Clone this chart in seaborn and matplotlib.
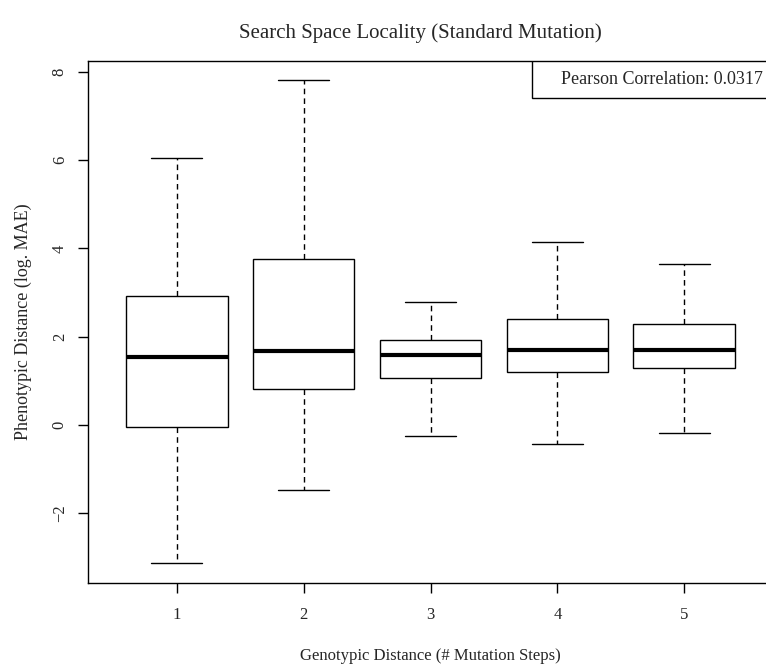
import matplotlib
matplotlib.use("Agg")
import matplotlib.pyplot as plt
from matplotlib.patches import Rectangle
import seaborn as sns
import pandas as pd

# Data (whisker low, Q1, median, Q3, whisker high)
steps = ["1", "2", "3", "4", "5"]
whisker_low = [-3.13, -1.47, -0.25, -0.43, -0.17]
q1 = [-0.04, 0.81, 1.06, 1.20, 1.30]
median = [1.55, 1.68, 1.59, 1.71, 1.70]
q3 = [2.92, 3.75, 1.92, 2.41, 2.29]
whisker_high = [6.05, 7.81, 2.79, 4.14, 3.65]
y_ticks = [-2, 0, 2, 4, 6, 8]
legend_text = "Pearson Correlation: 0.0317"

rows = []
for i, s in enumerate(steps):
    for v in (whisker_low[i], q1[i], median[i], q3[i], whisker_high[i]):
        rows.append({"step": s, "value": v})
df = pd.DataFrame(rows)

sns.set_theme(style="white")
plt.rcParams["font.family"] = ["Liberation Serif", "DejaVu Serif"]

W, H = 766, 664
fig = plt.figure(figsize=(W / 100, H / 100), dpi=100)
left, right, top, bottom = 88, 773, 60.8, 582.6
ax = fig.add_axes([left / W, 1 - bottom / H, (right - left) / W, (bottom - top) / H])

sns.boxplot(
    data=df, x="step", y="value", order=steps, ax=ax,
    color="white", linecolor="black", linewidth=1.0, width=0.8,
    whis=(0, 100), showfliers=False,
    medianprops=dict(color="black", linewidth=3.0),
    whiskerprops=dict(color="black", linewidth=1.0, linestyle=(0, (4, 3))),
    capprops=dict(color="black", linewidth=1.0),
    boxprops=dict(edgecolor="black", linewidth=1.0),
    capwidths=0.4,
)

ax.set_xlim(-0.7, 4.7)
rng = max(whisker_high) - min(whisker_low)
ax.set_ylim(min(whisker_low) - 0.04 * rng, max(whisker_high) + 0.04 * rng)
ax.set_yticks(y_ticks)
ax.set_yticklabels([str(t).replace("-", "\u2212") for t in y_ticks], rotation=90, va="center")

for sp in ax.spines.values():
    sp.set_visible(True)
    sp.set_color("black")
    sp.set_linewidth(1.0)

ax.tick_params(axis="both", direction="out", length=7.5, width=1, color="black",
               labelsize=12, left=True, bottom=True)
ax.tick_params(axis="y", pad=7)
ax.tick_params(axis="x", pad=10)
ax.set_xlabel("Genotypic Distance (# Mutation Steps)", fontsize=12, labelpad=18)
ax.set_ylabel("Phenotypic Distance (log. MAE)", fontsize=13, labelpad=14)

fig.text(420 / W, 1 - 33 / H,
         "Search Space Locality (Standard Mutation)", fontsize=15,
         ha="center", va="center")

# legend box
lx0 = (531.7 - left) / (right - left)
ly0 = (bottom - 98.3) / (bottom - top)
ax.add_patch(Rectangle((lx0, ly0), 1 - lx0, 1 - ly0, transform=ax.transAxes,
                       facecolor="white", edgecolor="black", linewidth=1.0, zorder=5))
ax.text((560.7 - left) / (right - left), (bottom - 80) / (bottom - top), legend_text,
        transform=ax.transAxes, fontsize=13, ha="left", va="center", zorder=6)

fig.savefig("out.png", dpi=100, facecolor="white")
